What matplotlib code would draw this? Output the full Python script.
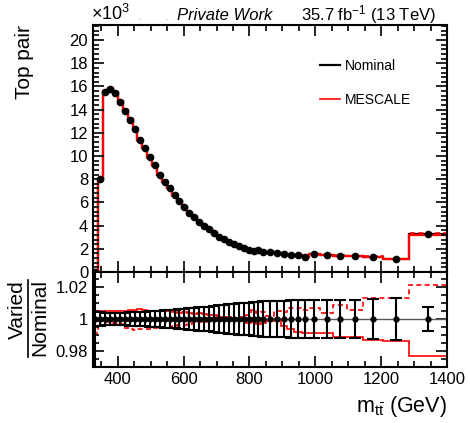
import matplotlib
matplotlib.use("Agg")
import matplotlib.pyplot as plt
import numpy as np
from matplotlib.lines import Line2D
from matplotlib.ticker import MultipleLocator, FuncFormatter

plt.rcParams["font.family"] = ["Liberation Sans", "DejaVu Sans"]
plt.rcParams["mathtext.fontset"] = "custom"
plt.rcParams["mathtext.rm"] = "Liberation Sans"
plt.rcParams["mathtext.it"] = "Liberation Sans:italic"
plt.rcParams["mathtext.bf"] = "Liberation Sans:bold"

# m_ttbar binning (GeV)
edges = [325, 340, 355, 370, 385, 400, 415, 430, 445, 460, 475, 490, 505, 520,
         535, 550, 565, 580, 595, 610, 625, 640, 655, 670, 685, 700, 715, 730,
         745, 760, 775, 790, 805, 820, 835, 850, 875, 895, 915, 935, 960, 980,
         1015, 1055, 1096, 1146, 1207, 1286, 1400]

# nominal top pair yield per bin (x10^3)
nominal = [0.02, 8.0, 15.55, 15.75, 15.45, 14.7, 13.9, 13.1, 12.3, 11.4,
           10.65, 9.9, 9.2, 8.4, 7.8, 7.2, 6.6, 6.1, 5.6, 5.1,
           4.7, 4.3, 4.0, 3.7, 3.4, 3.06, 2.86, 2.6, 2.42, 2.28,
           2.05, 1.88, 1.80, 1.88, 1.72, 1.70, 1.64, 1.52, 1.50, 1.44,
           1.33, 1.53, 1.45, 1.41, 1.36, 1.33, 1.13, 3.29]

# relative statistical uncertainty of the nominal
rel_err = [0.5, 0.0045, 0.0038, 0.0038, 0.0038, 0.0039, 0.0040, 0.0041, 0.0042, 0.0044,
           0.0046, 0.0048, 0.0050, 0.0052, 0.0054, 0.0056, 0.0058, 0.0060, 0.0063, 0.0066,
           0.0069, 0.0072, 0.0075, 0.0078, 0.0081, 0.0085, 0.0088, 0.0091, 0.0094, 0.0097,
           0.0100, 0.0103, 0.0106, 0.0108, 0.0111, 0.0113, 0.0114, 0.0115, 0.0116, 0.0116,
           0.0117, 0.0117, 0.0118, 0.0119, 0.0120, 0.0123, 0.0130, 0.0075]

# MESCALE variations, relative shift w.r.t. nominal
mescale_dn = [0.005, 0.005, 0.0048, 0.005, 0.0047, 0.005, 0.0052, 0.0055, 0.0058, 0.006,
              0.0057, 0.0052, 0.005, 0.0053, 0.005, 0.0048, 0.0046, 0.004, 0.0042, 0.0036,
              0.0033, 0.0035, 0.003, 0.0022, 0.0025, 0.0015, 0.001, 0.0012, 0.0003, -0.0008,
              -0.0012, -0.0025, -0.0018, -0.0032, -0.0027, -0.0015, 0.0003, -0.0045, -0.006, -0.008,
              -0.0088, -0.0085, -0.0085, -0.011, -0.011, -0.013, -0.0138, -0.023]
mescale_up = [-0.009, -0.0015, -0.002, -0.0018, -0.0022, -0.003, -0.0055, -0.0064, -0.0066, -0.0063,
              -0.0065, -0.0062, -0.0058, -0.0055, -0.0052, -0.0048, -0.0045, -0.004, -0.0035, -0.003,
              -0.0025, -0.002, -0.0018, -0.0012, -0.0015, -0.0008, -0.0005, 0.0002, 0.0008, -0.0005,
              0.001, 0.0025, 0.0055, 0.004, 0.0045, 0.002, 0.005, 0.0046, 0.0067, 0.0067,
              0.0055, 0.0067, 0.004, 0.0088, 0.0056, 0.013, 0.013, 0.021]

edges = np.array(edges, dtype=float)
nominal = np.array(nominal)
centers = 0.5 * (edges[:-1] + edges[1:])
up = nominal * (1 + np.array(mescale_up))
dn = nominal * (1 + np.array(mescale_dn))

fig = plt.figure(figsize=(4.7, 4.23), dpi=100)
ax = fig.add_axes([0.1979, 0.3570, 0.7532, 0.5839])
rax = fig.add_axes([0.1979, 0.1324, 0.7532, 0.2246], sharex=ax)

# upper panel: yields
ax.stairs(nominal, edges, color="black", lw=1.6)
ax.stairs(dn, edges, color="red", lw=1.6)
ax.stairs(up, edges, color="red", lw=1.2, ls=(0, (3, 2)))
ax.plot(centers, nominal, "o", color="black", ms=4.5)
ax.set_xlim(325, 1400)
ax.set_ylim(0, 21.3)

handles = [Line2D([], [], color="black", lw=1.6), Line2D([], [], color="red", lw=1.2)]
ax.legend(handles, ["Nominal", "MESCALE"], frameon=False, fontsize=10,
          handlelength=1.45, handletextpad=0.35, labelspacing=1.45,
          borderpad=0, borderaxespad=0, loc="upper left",
          bbox_to_anchor=(0.641, 0.862))

# lower panel: ratio to nominal
rax.axhline(1, color="0.35", lw=1)
rax.stairs(1 + np.array(mescale_dn), edges, baseline=None, color="red", lw=1.2)
rax.stairs(1 + np.array(mescale_up), edges, baseline=None, color="red", lw=1.2,
           ls=(0, (3, 2)))
rax.errorbar(centers, np.ones_like(centers), yerr=rel_err, fmt="o", color="black",
             ms=3.5, lw=1.5, capsize=4.5, capthick=1.5)
rax.set_ylim(0.97, 1.0294)

for a in (ax, rax):
    a.tick_params(which="both", direction="in", top=True, right=True, width=1.2,
                  labelsize=12)
    a.tick_params(which="major", length=8)
    a.tick_params(which="minor", length=4)
    for s in a.spines.values():
        s.set_linewidth(1.5)

ax.xaxis.set_major_locator(MultipleLocator(200))
ax.xaxis.set_minor_locator(MultipleLocator(50))
ax.yaxis.set_major_locator(MultipleLocator(2))
ax.yaxis.set_minor_locator(MultipleLocator(0.4))
ax.tick_params(labelbottom=False)
rax.yaxis.set_major_locator(MultipleLocator(0.02))
rax.yaxis.set_minor_locator(MultipleLocator(0.005))
rax.yaxis.set_major_formatter(FuncFormatter(lambda v, p: "%g" % round(v, 3)))

# titles and axis labels
fig.text(25 / 470, 1 - 62 / 423, "Top pair", rotation=90, fontsize=15,
         ha="center", va="center")
fig.text(447 / 470, 1 - 406 / 423, r"m$_{\mathrm{t\bar{t}}}$ (GeV)", fontsize=15.5,
         ha="right", va="center")
fig.text(17.5 / 470, 1 - 310 / 423, "Varied", rotation=90, fontsize=15,
         ha="center", va="center")
fig.text(39.5 / 470, 1 - 318 / 423, "Nominal", rotation=90, fontsize=15,
         ha="center", va="center")
fig.add_artist(Line2D([28 / 470, 28 / 470], [1 - 280 / 423, 1 - 357 / 423],
                      color="black", lw=1.2, transform=fig.transFigure))

fig.text(91 / 470, 1 - 14 / 423, r"×10$^{3}$", fontsize=13, va="center")
fig.text(140 / 470, 1 - 20 / 423, "-", color="0.6", fontsize=6, ha="center", va="center")
fig.text(167 / 470, 1 - 20 / 423, "-", color="0.6", fontsize=6, ha="center", va="center")
fig.text(225 / 470, 1 - 15 / 423, "Private Work", style="italic", fontsize=12,
         ha="center", va="center")
fig.text(369 / 470, 1 - 15 / 423, r"35.7 fb$^{-1}$ (13 TeV)", fontsize=12,
         ha="center", va="center")

fig.savefig("out.png", dpi=100)
